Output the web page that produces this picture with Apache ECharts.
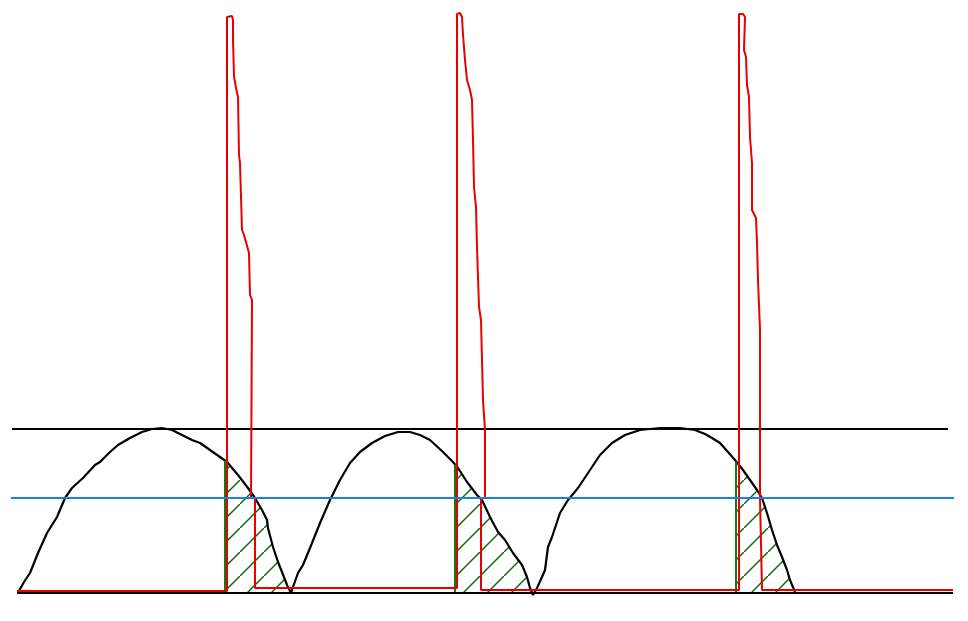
<!DOCTYPE html>
<html><head><meta charset="utf-8">
<script src="https://cdn.jsdelivr.net/npm/echarts/dist/echarts.min.js"></script>
<style>html,body{margin:0;padding:0;background:#fff}#c{width:968px;height:621px}</style>
</head><body><div id="c"></div>
<script>
// Sketch values (x along the sheet, y measured downward from the top edge)
const topLineX = [12, 948];
const topLineY = 429;
const blueLineX = [11, 954];
const blueLineY = 498;
const bottomLineX = [17, 953];
const bottomLineY = 593;

const curveX = [19,24,30,38,47,57,65,72,83,95,100,110,118,130,142,152,162,172,182,192,200,210,220,227,238,248,255,262,267,268,273,278,282,287,291,293,298,303,310,320,330,340,350,360,372,385,398,410,420,430,443,453,458,467,477,482,490,498,505,513,522,527,530,533,537,542,545,548,552,560,568,578,590,600,612,625,640,660,680,695,705,712,720,728,735,743,750,757,762,767,772,777,782,787,790,795];
const curveY = [591,582,573,553,533,517,498,488,478,465,462,452,445,438,432,429,428,430,435,440,443,450,457,462,475,488,498,510,520,528,547,562,572,585,593,587,573,565,548,523,500,480,463,452,443,436,432,432,435,440,452,462,468,482,495,500,517,532,540,553,565,577,588,595,588,577,570,547,537,513,500,488,470,455,443,435,430,428,428,430,434,438,443,452,460,470,480,490,498,513,530,545,557,570,580,592];

const redX = [17,227,227,229,232,233,233,234,236,238,239,240,242,244,246,249,250,252,251,255,255,457,457,460,462,463,465,467,470,472,473,474,476,477,479,481,483,485,485,481,481,739,739,743,745,744,746,747,749,750,752,752,754,756,757,758,760,760,762,762,953];
const redY = [591,591,17,15,16,20,40,76,88,97,155,163,230,235,242,253,295,300,498,498,588,588,14,13,17,35,60,80,90,100,140,187,207,247,307,320,400,430,498,498,590,590,14,14,17,50,57,85,97,137,163,210,212,218,243,280,330,498,498,590,590];

const hatchStartX = [225, 455, 736];
const hatchEndX = [291, 533, 795];
const hatchBottomY = 592;

function curveAt(x) {
  for (let i = 0; i < curveX.length - 1; i++) {
    if (x >= curveX[i] && x <= curveX[i + 1]) {
      const t = (x - curveX[i]) / (curveX[i + 1] - curveX[i]);
      return curveY[i] + t * (curveY[i + 1] - curveY[i]);
    }
  }
  return curveY[curveY.length - 1];
}

// hatch pattern tile
const tile = document.createElement('canvas');
tile.width = 24; tile.height = 24;
const tc = tile.getContext('2d');
tc.strokeStyle = '#0a6a0a';
tc.lineWidth = 1.5;
tc.beginPath();
tc.moveTo(-3, 27); tc.lineTo(27, -3);
tc.stroke();
const hatchPattern = { image: tile, repeat: 'repeat' };

const zip = (xs, ys) => xs.map((x, i) => [x, ys[i]]);
const hline = (xs, y, color, z) => ({
  type: 'line', data: xs.map(x => [x, y]), symbol: 'none', silent: true, z: z,
  lineStyle: { color: color, width: 2 }, animation: false
});

const series = [
  {
    type: 'custom', z: 1, silent: true, animation: false,
    data: hatchStartX.map((x, i) => [x, hatchEndX[i]]),
    renderItem: function (params, api) {
      const x0 = hatchStartX[params.dataIndex];
      const xe = hatchEndX[params.dataIndex];
      const pts = [api.coord([x0, hatchBottomY]), api.coord([x0, curveAt(x0)])];
      for (let i = 0; i < curveX.length; i++) {
        if (curveX[i] > x0 && curveX[i] < xe) pts.push(api.coord([curveX[i], curveY[i]]));
      }
      pts.push(api.coord([xe, curveAt(xe)]));
      pts.push(api.coord([xe, hatchBottomY]));
      return { type: 'polygon', shape: { points: pts }, style: { fill: hatchPattern, stroke: null } };
    }
  },
  hline(topLineX, topLineY, '#000000', 2),
  hline(bottomLineX, bottomLineY, '#000000', 2),
  {
    type: 'line', data: zip(curveX, curveY), symbol: 'none', silent: true, z: 3, animation: false,
    lineStyle: { color: '#000000', width: 2.2 }
  }
];
hatchStartX.forEach(x => series.push({
  type: 'line', data: [[x, curveAt(x)], [x, hatchBottomY]], symbol: 'none', silent: true, z: 3, animation: false,
  lineStyle: { color: '#137a13', width: 2 }
}));
series.push({
  type: 'line', data: zip(redX, redY), symbol: 'none', silent: true, z: 4, animation: false,
  lineStyle: { color: '#e60000', width: 2 }
});
series.push(hline(blueLineX, blueLineY, '#1a7fe6', 5));

const chart = echarts.init(document.getElementById('c'), null, { renderer: 'canvas' });
chart.setOption({
  backgroundColor: '#ffffff',
  animation: false,
  grid: { left: 0, right: 0, top: 0, bottom: 0 },
  xAxis: { type: 'value', min: 0, max: 968, show: false },
  yAxis: { type: 'value', min: 0, max: 621, inverse: true, show: false },
  series: series
});
</script>
</body></html>
